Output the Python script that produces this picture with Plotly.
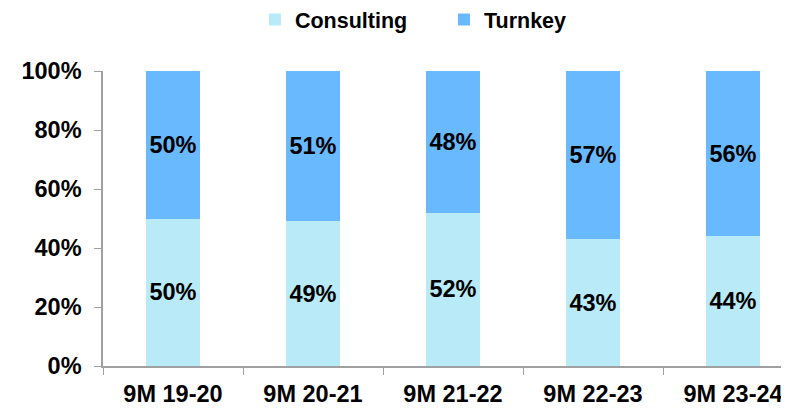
import plotly.graph_objects as go

categories = ["9M 19-20", "9M 20-21", "9M 21-22", "9M 22-23", "9M 23-24"]
consulting = [50, 49, 52, 43, 44]
turnkey = [50, 51, 48, 57, 56]
y_ticks = [0, 20, 40, 60, 80, 100]
y_tick_labels = ["0%", "20%", "40%", "60%", "80%", "100%"]

FONT = "Liberation Sans, Arial, sans-serif"
bold = dict(family=FONT, size=23.5, color="black", weight="bold")

fig = go.Figure()
fig.add_trace(go.Bar(
    name="Consulting", x=categories, y=consulting,
    marker=dict(color="#B8EBF7", line=dict(width=0)),
    text=[f"{v}%" for v in consulting], textposition="inside",
    insidetextanchor="middle", textfont=bold, width=0.38,
    constraintext="none", textangle=0,
))
fig.add_trace(go.Bar(
    name="Turnkey", x=categories, y=turnkey,
    marker=dict(color="#69B9FF", line=dict(width=0)),
    text=[f"{v}%" for v in turnkey], textposition="inside",
    insidetextanchor="middle", textfont=bold, width=0.38,
    constraintext="none", textangle=0,
))

fig.update_layout(
    barmode="stack",
    width=789, height=410,
    margin=dict(l=95, r=0, t=63, b=52, autoexpand=False),
    paper_bgcolor="white", plot_bgcolor="white",
    legend=dict(
        orientation="h", traceorder="normal",
        x=0.313, xanchor="left", xref="container",
        y=1.244, yanchor="top", yref="paper",
        font=dict(family=FONT, size=21.5, color="black", weight="bold"),
        entrywidth=144, entrywidthmode="pixels", itemclick=False,
    ),
    xaxis=dict(
        type="category", range=[-0.5, 4.457],
        showline=True, linecolor="#A0A0A0", linewidth=1.5,
        ticks="outside", tickson="boundaries", ticklen=7, tickcolor="#A0A0A0",
        tickfont=bold, showgrid=False, zeroline=False, automargin=False,
        ticklabelstandoff=6,
    ),
    yaxis=dict(
        range=[0, 100], tickvals=y_ticks, ticktext=y_tick_labels,
        showline=True, linecolor="#A0A0A0", linewidth=1.5,
        ticks="outside", ticklen=7, tickcolor="#A0A0A0",
        tickfont=bold, showgrid=False, zeroline=False, automargin=False,
        ticklabelstandoff=8,
    ),
)

fig.write_html("out.html")
